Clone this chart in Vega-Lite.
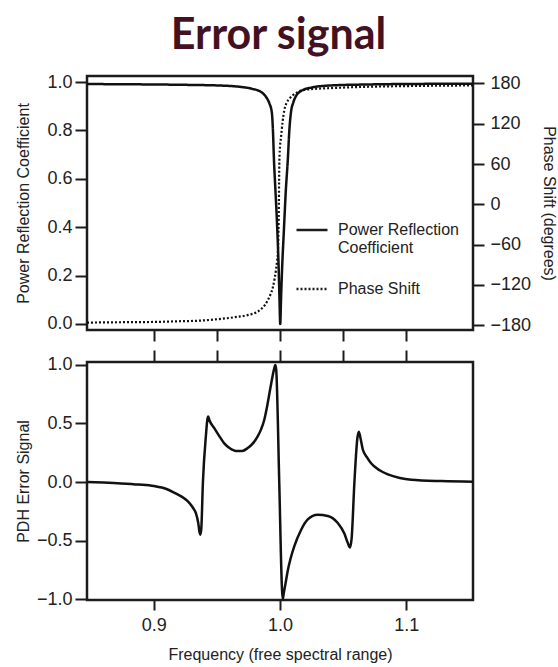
{
  "$schema": "https://vega.github.io/schema/vega-lite/v6.json",
  "padding": {"left": 13, "top": 14, "right": 3, "bottom": 2},
  "bounds": "flush",
  "spacing": 32,
  "title": {
    "text": "Error signal",
    "font": "Lato",
    "fontSize": 43,
    "fontWeight": "bold",
    "color": "#43111f",
    "anchor": "middle",
    "dx": -7,
    "offset": 14
  },
  "config": {
    "font": "Liberation Sans",
    "view": {"stroke": "#1c1c1c", "strokeWidth": 2.5},
    "axis": {
      "domain": false,
      "grid": false,
      "tickColor": "#1c1c1c",
      "tickWidth": 2,
      "labelFont": "Liberation Sans",
      "labelFontSize": 18,
      "labelColor": "#222222",
      "titleFont": "Liberation Sans",
      "titleFontSize": 16,
      "titleFontWeight": "normal",
      "titleColor": "#222222"
    },
    "legend": {
      "orient": "none",
      "legendX": 208,
      "legendY": 137,
      "title": null,
      "symbolType": "stroke",
      "symbolSize": 961,
      "symbolStrokeWidth": 2.5,
      "symbolStrokeColor": "#1c1c1c",
      "labelFont": "Liberation Sans",
      "labelFontSize": 16,
      "labelColor": "#222222",
      "labelOffset": 9,
      "labelLimit": 200,
      "rowPadding": 16
    }
  },
  "datasets": {
    "reflection": [
      {"f": 0.847, "r": 0.992}, {"f": 0.87, "r": 0.991}, {"f": 0.9, "r": 0.99},
      {"f": 0.93, "r": 0.988}, {"f": 0.95, "r": 0.986}, {"f": 0.965, "r": 0.982},
      {"f": 0.977, "r": 0.973}, {"f": 0.985, "r": 0.959}, {"f": 0.989, "r": 0.938},
      {"f": 0.9915, "r": 0.913}, {"f": 0.9935, "r": 0.875}, {"f": 0.9944, "r": 0.8},
      {"f": 0.9952, "r": 0.68}, {"f": 0.9964, "r": 0.55}, {"f": 0.9976, "r": 0.42},
      {"f": 0.999, "r": 0.22}, {"f": 0.9996, "r": 0.1}, {"f": 1.0002, "r": 0.0},
      {"f": 1.0008, "r": 0.1}, {"f": 1.0016, "r": 0.22}, {"f": 1.0032, "r": 0.4},
      {"f": 1.0046, "r": 0.55}, {"f": 1.0062, "r": 0.68}, {"f": 1.0074, "r": 0.8},
      {"f": 1.0087, "r": 0.875}, {"f": 1.0105, "r": 0.915}, {"f": 1.013, "r": 0.945},
      {"f": 1.0167, "r": 0.963}, {"f": 1.0246, "r": 0.977}, {"f": 1.0405, "r": 0.986},
      {"f": 1.07, "r": 0.99}, {"f": 1.1, "r": 0.992}, {"f": 1.153, "r": 0.993}
    ],
    "phase": [
      {"f": 0.847, "deg": -176}, {"f": 0.87, "deg": -175.5}, {"f": 0.9, "deg": -175},
      {"f": 0.92, "deg": -174}, {"f": 0.937, "deg": -173}, {"f": 0.95, "deg": -171},
      {"f": 0.964, "deg": -168}, {"f": 0.975, "deg": -164.5}, {"f": 0.981, "deg": -161},
      {"f": 0.985, "deg": -156}, {"f": 0.988, "deg": -150}, {"f": 0.9905, "deg": -142},
      {"f": 0.9925, "deg": -134}, {"f": 0.9944, "deg": -123}, {"f": 0.9958, "deg": -110},
      {"f": 0.9968, "deg": -98}, {"f": 0.9977, "deg": -84}, {"f": 0.9984, "deg": -68},
      {"f": 0.9988, "deg": -40}, {"f": 0.9991, "deg": 0}, {"f": 0.9993, "deg": 35},
      {"f": 0.9995, "deg": 65}, {"f": 1.0001, "deg": 88}, {"f": 1.0008, "deg": 100},
      {"f": 1.002, "deg": 122}, {"f": 1.0034, "deg": 140}, {"f": 1.005, "deg": 150},
      {"f": 1.0074, "deg": 157}, {"f": 1.01, "deg": 162}, {"f": 1.014, "deg": 167},
      {"f": 1.022, "deg": 171}, {"f": 1.0405, "deg": 173}, {"f": 1.07, "deg": 175},
      {"f": 1.1, "deg": 176}, {"f": 1.153, "deg": 177}
    ],
    "pdh": [
      {"f": 0.847, "e": 0.0}, {"f": 0.86, "e": -0.005}, {"f": 0.874, "e": -0.012},
      {"f": 0.888, "e": -0.022}, {"f": 0.9, "e": -0.035}, {"f": 0.91, "e": -0.06},
      {"f": 0.916, "e": -0.09}, {"f": 0.922, "e": -0.125}, {"f": 0.927, "e": -0.165},
      {"f": 0.931, "e": -0.22}, {"f": 0.9333, "e": -0.265}, {"f": 0.9352, "e": -0.35},
      {"f": 0.9362, "e": -0.43}, {"f": 0.9368, "e": -0.45}, {"f": 0.9376, "e": -0.4},
      {"f": 0.9389, "e": 0.0}, {"f": 0.9413, "e": 0.4}, {"f": 0.9425, "e": 0.54},
      {"f": 0.9431, "e": 0.56}, {"f": 0.944, "e": 0.53}, {"f": 0.9479, "e": 0.46},
      {"f": 0.952, "e": 0.39}, {"f": 0.9558, "e": 0.33}, {"f": 0.96, "e": 0.29},
      {"f": 0.9651, "e": 0.265}, {"f": 0.97, "e": 0.265}, {"f": 0.9744, "e": 0.29},
      {"f": 0.9785, "e": 0.33}, {"f": 0.9823, "e": 0.39}, {"f": 0.985, "e": 0.45},
      {"f": 0.9875, "e": 0.53}, {"f": 0.9895, "e": 0.63}, {"f": 0.9915, "e": 0.75},
      {"f": 0.9935, "e": 0.87}, {"f": 0.9952, "e": 0.96}, {"f": 0.9963, "e": 1.0},
      {"f": 0.997, "e": 0.96}, {"f": 0.9994, "e": 0.0}, {"f": 1.0016, "e": -0.92},
      {"f": 1.0022, "e": -1.0}, {"f": 1.003, "e": -0.95}, {"f": 1.0045, "e": -0.86},
      {"f": 1.0061, "e": -0.76}, {"f": 1.0085, "e": -0.65}, {"f": 1.0113, "e": -0.55},
      {"f": 1.0167, "e": -0.41}, {"f": 1.022, "e": -0.32}, {"f": 1.0299, "e": -0.28},
      {"f": 1.0379, "e": -0.29}, {"f": 1.0458, "e": -0.35}, {"f": 1.051, "e": -0.44},
      {"f": 1.0537, "e": -0.52}, {"f": 1.0555, "e": -0.56}, {"f": 1.0568, "e": -0.48},
      {"f": 1.059, "e": 0.0}, {"f": 1.0614, "e": 0.38}, {"f": 1.0625, "e": 0.43},
      {"f": 1.0637, "e": 0.38}, {"f": 1.0656, "e": 0.28}, {"f": 1.069, "e": 0.21},
      {"f": 1.0722, "e": 0.16}, {"f": 1.079, "e": 0.1}, {"f": 1.0855, "e": 0.065},
      {"f": 1.095, "e": 0.035}, {"f": 1.104, "e": 0.02}, {"f": 1.128, "e": 0.008},
      {"f": 1.153, "e": 0.003}
    ]
  },
  "vconcat": [
    {
      "width": 386,
      "height": 254,
      "layer": [
        {
          "data": {"name": "reflection"},
          "mark": {"type": "line", "interpolate": "monotone", "color": "#111111", "strokeWidth": 2.5},
          "encoding": {
            "x": {
              "field": "f", "type": "quantitative",
              "scale": {"domain": [0.847, 1.153], "nice": false, "zero": false},
              "axis": {"orient": "bottom", "values": [0.9, 0.95, 1.0, 1.05, 1.1], "labels": false, "tickSize": 11, "title": null}
            },
            "y": {
              "field": "r", "type": "quantitative",
              "scale": {"domain": [-0.025, 1.025], "nice": false, "zero": false},
              "axis": {"values": [0, 0.2, 0.4, 0.6, 0.8, 1.0], "format": ".1f", "tickSize": 12, "labelPadding": 3,
                       "title": "Power Reflection Coefficient", "titleX": -64, "titleBaseline": "middle"}
            },
            "strokeDash": {
              "datum": "Power Reflection Coefficient",
              "type": "nominal",
              "scale": {"domain": ["Power Reflection Coefficient", "Phase Shift"], "range": [[1, 0], [2, 2]]},
              "legend": {"labelExpr": "datum.label == 'Power Reflection Coefficient' ? ['Power Reflection', 'Coefficient'] : datum.label"}
            }
          }
        },
        {
          "data": {"name": "phase"},
          "mark": {"type": "line", "interpolate": "monotone", "color": "#111111", "strokeWidth": 2.2},
          "encoding": {
            "x": {"field": "f", "type": "quantitative"},
            "y": {
              "field": "deg", "type": "quantitative",
              "scale": {"domain": [-187, 191], "nice": false, "zero": false},
              "axis": {"orient": "right", "values": [-180, -120, -60, 0, 60, 120, 180], "tickSize": 11, "labelPadding": 6,
                       "title": "Phase Shift (degrees)", "titleAngle": 90, "titleX": 75, "titleBaseline": "middle"}
            },
            "strokeDash": {"datum": "Phase Shift", "type": "nominal"}
          }
        },
        {
          "mark": {"type": "text", "fontSize": 16, "color": "#222222", "align": "center", "baseline": "middle"},
          "encoding": {
            "x": {"datum": 0.8845, "type": "quantitative"},
            "y": {"datum": 0.81, "type": "quantitative", "scale": {"domain": [-0.025, 1.025], "nice": false, "zero": false}, "axis": null},
            "text": {"value": "(a)"}
          }
        }
      ],
      "resolve": {"scale": {"y": "independent"}}
    },
    {
      "width": 386,
      "height": 238,
      "layer": [
        {
          "mark": {"type": "rule", "color": "#7a7a7a", "strokeWidth": 2, "strokeDash": [20, 19], "strokeDashOffset": 26.7},
          "encoding": {"y": {"datum": 0, "type": "quantitative"}}
        },
        {
          "data": {"name": "pdh"},
          "mark": {"type": "line", "interpolate": "monotone", "color": "#111111", "strokeWidth": 2.5},
          "encoding": {
            "x": {
              "field": "f", "type": "quantitative",
              "scale": {"domain": [0.847, 1.153], "nice": false, "zero": false},
              "axis": {"orient": "bottom", "values": [0.9, 1.0, 1.1], "format": ".1f", "tickSize": 10, "labelPadding": 6,
                       "title": "Frequency (free spectral range)", "titlePadding": 12}
            },
            "y": {
              "field": "e", "type": "quantitative",
              "scale": {"domain": [-1.0085, 1.0256], "nice": false, "zero": false},
              "axis": {"values": [-1, -0.5, 0, 0.5, 1], "format": ".1f", "tickSize": 12, "labelPadding": 3,
                       "title": "PDH Error Signal", "titleX": -64, "titleBaseline": "middle"}
            }
          }
        },
        {
          "mark": {"type": "text", "fontSize": 16, "color": "#222222", "align": "center", "baseline": "middle"},
          "encoding": {
            "x": {
              "datum": 0.8845, "type": "quantitative",
              "axis": {"orient": "top", "values": [0.9, 0.95, 1.0, 1.05, 1.1], "labels": false, "tickSize": 12, "title": null}
            },
            "y": {"datum": 0.59, "type": "quantitative"},
            "text": {"value": "(b)"}
          }
        }
      ],
      "resolve": {"axis": {"x": "independent"}}
    }
  ]
}
